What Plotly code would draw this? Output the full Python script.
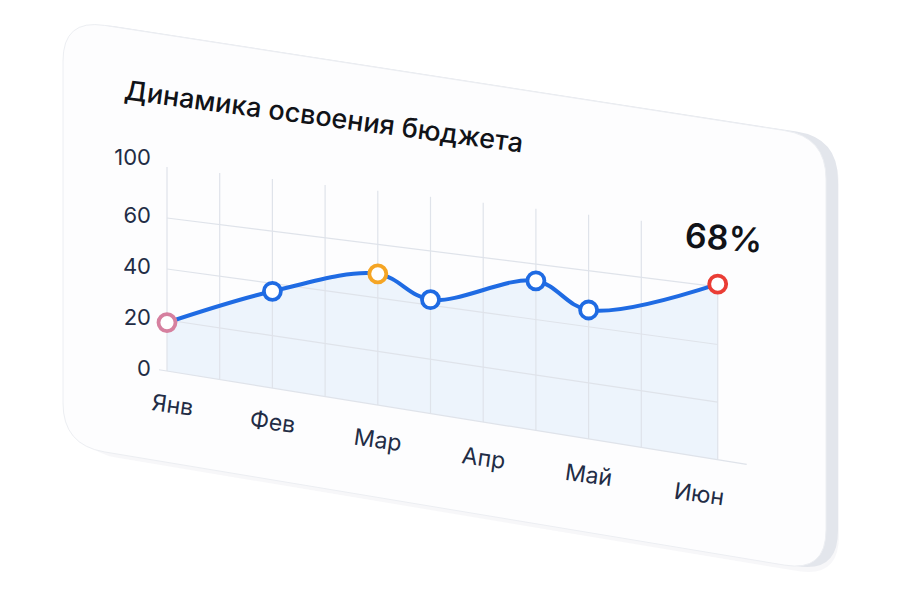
import math
from typing import List, Tuple

import plotly.graph_objects as go


# data
MONTHS = ["Янв", "Фев", "Мар", "Апр", "Май", "Июн"]
MONTH_POS = [0.1, 2, 4, 6, 8, 10.1]
POINT_POS = [0, 2, 4, 5, 7, 8, 10.45]
POINT_VALUES = [19, 37, 49, 42, 54, 46, 61]
Y_TICK_VALUES = [1, 21, 41, 61, 84]
Y_TICK_LABELS = ["0", "20", "40", "60", "100"]
GRID_LEVELS = [0, 20, 40, 60]
GRID_COLUMNS = [0, 1, 2, 3, 4, 5, 6, 7, 8, 9]
LAST_LABEL = "68%"
TITLE = "Динамика освоения бюджета"

# page geometry (pixels)
W, H = 900, 615
ORIGIN_X, ORIGIN_Y = 167, 371
PX_PER_COL = 52.7
PX_PER_UNIT = 2.55

# fake perspective: the card leans back to the right
DROP = 3.33
GROW = 0.0124
TOP_LEVEL = 80
LABEL_LEVEL = -13

BLUE = "#1f6be3"
GRID = "#dfe3ea"
INK = "#222c45"
MARKER_COLORS = ["#d6809f", BLUE, "#f5a524", BLUE, BLUE, BLUE, "#ea3d35"]
FONT = "Inter"


def tilt(u: float, v: float) -> float:
    return v * (1 + GROW * u) - DROP * u


def to_paper(x: float, y: float) -> Tuple[float, float]:
    return x / W, 1 - y / H


def toward(p, q, r):
    d = math.hypot(q[0] - p[0], q[1] - p[1])
    return p[0] + (q[0] - p[0]) * r / d, p[1] + (q[1] - p[1]) * r / d


def rounded_path(points: List[Tuple[float, float]], r: float, dx=0.0, dy=0.0) -> str:
    pts = [(x + dx, y + dy) for x, y in points]
    parts = []
    n = len(pts)
    for i in range(n):
        prev_pt, cur, nxt = pts[i - 1], pts[i], pts[(i + 1) % n]
        a = to_paper(*toward(cur, prev_pt, r))
        b = to_paper(*toward(cur, nxt, r))
        c = to_paper(*cur)
        parts.append(("M" if i == 0 else "L") + f"{a[0]:.4f},{a[1]:.4f}")
        parts.append(f"Q{c[0]:.4f},{c[1]:.4f} {b[0]:.4f},{b[1]:.4f}")
    return " ".join(parts) + " Z"


def card_shapes():
    face = [(63, 19), (826, 137), (826, 572), (63, 445)]
    return [
        # soft shadow
        dict(type="path", path=rounded_path(face, 42, 13, 6), xref="paper", yref="paper",
             fillcolor="rgba(90,100,130,0.05)", line_width=0, layer="below"),
        # thickness of the card
        dict(type="path", path=rounded_path(face, 42, 12, 1), xref="paper", yref="paper",
             fillcolor="#e3e6ec", line_width=0, layer="below"),
        dict(type="path", path=rounded_path(face, 42), xref="paper", yref="paper",
             fillcolor="#fdfdfe", line=dict(color="#eceef2", width=1), layer="below"),
    ]


def grid_traces() -> List[go.Scatter]:
    hx, hy = [], []
    for level in GRID_LEVELS:
        start = -0.15 if level == 0 else POINT_POS[0]
        end = 11.0 if level == 0 else POINT_POS[-1]
        hx += [start, end, None]
        hy += [tilt(start, level), tilt(end, level), None]
    vx, vy = [], []
    for col in GRID_COLUMNS:
        vx += [col, col, None]
        vy += [tilt(col, 0), tilt(col, TOP_LEVEL), None]
    vx += [POINT_POS[-1], POINT_POS[-1]]
    vy += [tilt(POINT_POS[-1], 0), tilt(POINT_POS[-1], POINT_VALUES[-1])]
    style = dict(mode="lines", line=dict(color=GRID, width=1.2), hoverinfo="skip", showlegend=False)
    return [go.Scatter(x=hx, y=hy, **style), go.Scatter(x=vx, y=vy, **style)]


def main() -> None:
    fig = go.Figure()

    curve_y = [tilt(u, v) for u, v in zip(POINT_POS, POINT_VALUES)]
    base_x = [POINT_POS[0], POINT_POS[-1]]
    base_y = [tilt(u, 0) for u in base_x]

    # area under the curve
    fig.add_trace(go.Scatter(x=base_x, y=base_y, mode="lines", line_width=0,
                             hoverinfo="skip", showlegend=False))
    fig.add_trace(go.Scatter(x=POINT_POS, y=curve_y, mode="lines", line=dict(width=0, shape="spline", smoothing=1),
                             fill="tonexty", fillcolor="rgba(206,226,250,0.34)",
                             hoverinfo="skip", showlegend=False))
    for trace in grid_traces():
        fig.add_trace(trace)
    fig.add_trace(go.Scatter(
        x=POINT_POS, y=curve_y, mode="lines+markers",
        line=dict(color=BLUE, width=4, shape="spline", smoothing=1),
        marker=dict(size=17, color="white", line=dict(color=MARKER_COLORS, width=3.8)),
        hoverinfo="skip", showlegend=False,
    ))

    annotations = []
    for name, u in zip(MONTHS, MONTH_POS):
        annotations.append(dict(x=u, y=tilt(u, LABEL_LEVEL), text=name, showarrow=False, textangle=8,
                                font=dict(family=FONT, size=23, color=INK)))
    annotations.append(dict(x=POINT_POS[-1], y=curve_y[-1], text=LAST_LABEL, showarrow=False,
                            xshift=6, yshift=47, textangle=4,
                            font=dict(family=FONT, size=34, color="#111318", weight=600)))
    tx, ty = to_paper(324, 117)
    annotations.append(dict(x=tx, y=ty, xref="paper", yref="paper", text=TITLE, showarrow=False,
                            textangle=7.6, xanchor="center", yanchor="middle",
                            font=dict(family=FONT, size=27, color="#111318", weight=500)))

    fig.update_layout(
        width=W,
        height=H,
        margin=dict(l=0, r=0, t=0, b=0),
        paper_bgcolor="white",
        plot_bgcolor="rgba(0,0,0,0)",
        shapes=card_shapes(),
        annotations=annotations,
        xaxis=dict(range=[-ORIGIN_X / PX_PER_COL, (W - ORIGIN_X) / PX_PER_COL], visible=False, fixedrange=True),
        yaxis=dict(
            range=[(ORIGIN_Y - H) / PX_PER_UNIT, ORIGIN_Y / PX_PER_UNIT],
            anchor="free", position=151 / W,
            tickvals=Y_TICK_VALUES, ticktext=Y_TICK_LABELS,
            tickfont=dict(family=FONT, size=22, color=INK),
            showgrid=False, zeroline=False, showline=False, ticks="",
            fixedrange=True,
        ),
        hovermode=False,
    )
    # page body has a default margin; drop it so the figure sits at 0,0
    fig.write_html("out.html", config={"displayModeBar": False},
                   post_script="document.body.style.margin='0';")


if __name__ == "__main__":
    main()
